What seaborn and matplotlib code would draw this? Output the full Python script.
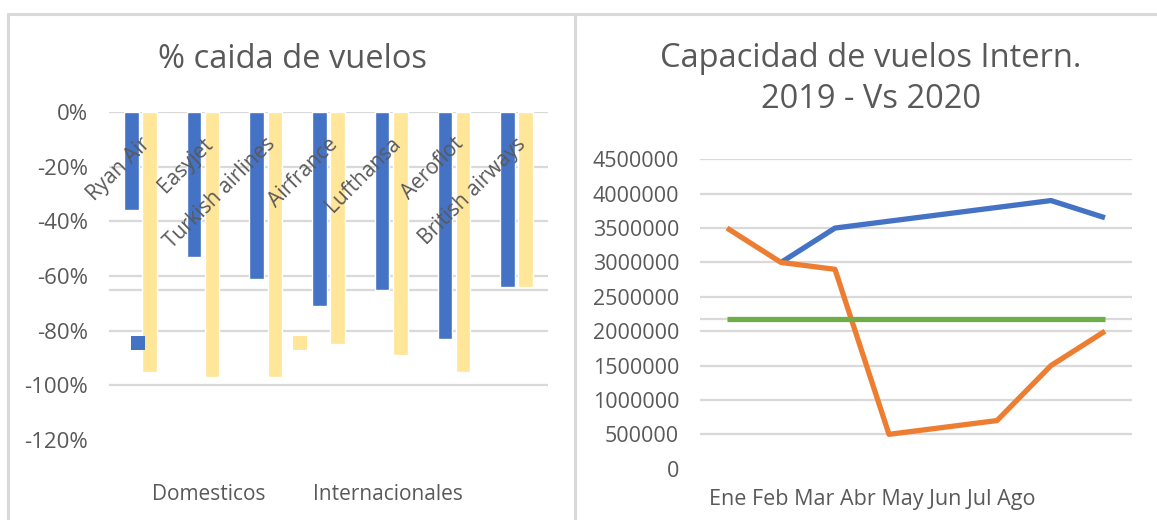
import pandas as pd
import seaborn as sns
import matplotlib.pyplot as plt
from matplotlib.patches import Rectangle
from matplotlib.lines import Line2D

# --- data ---
aerolineas = ["Ryan Air", "Easyjet", "Turkish airlines", "Airfrance",
              "Lufthansa", "Aeroflot", "British airways"]
domesticos = [-0.36, -0.53, -0.61, -0.71, -0.65, -0.83, -0.64]
internacionales = [-0.95, -0.97, -0.97, -0.85, -0.89, -0.95, -0.64]
tipos = ["Domesticos", "Internacionales"]

meses = ["Ene", "Feb", "Mar", "Abr", "May", "Jun", "Jul", "Ago"]
cap_2019 = [None, 3000000, 3500000, 3600000, 3700000, 3800000, 3900000, 3650000]
cap_2020 = [3500000, 3000000, 2900000, 500000, 600000, 700000, 1500000, 2000000]
cap_media = [2180000] * 8

AZUL = "#4472C4"
AMARILLO = "#FFE699"
NARANJA = "#ED7D31"
VERDE = "#70AD47"
GRIS_TXT = "#595959"
GRIS_LINEA = "#D9D9D9"

sns.set_style("white")
plt.rcParams["font.family"] = ["Open Sans", "DejaVu Sans"]

W, H = 1157, 520
fig = plt.figure(figsize=(W / 100, H / 100), dpi=100)


def px_box(x0, y0, x1, y1):
    """Convert pixel box (top-left origin) to figure fraction rect."""
    return [x0 / W, 1 - y1 / H, (x1 - x0) / W, (y1 - y0) / H]


# --- left chart: % caida de vuelos ---
ax1 = fig.add_axes(px_box(109, 112, 548, 440))
df_bar = pd.DataFrame({
    "aerolinea": aerolineas * 2,
    "caida": domesticos + internacionales,
    "tipo": [tipos[0]] * len(aerolineas) + [tipos[1]] * len(aerolineas),
})
sns.barplot(data=df_bar, x="aerolinea", y="caida", hue="tipo",
            palette=[AZUL, AMARILLO], saturation=1, width=0.58, gap=0.2,
            legend=False, ax=ax1, zorder=2)
ax1.set_xlim(-0.5, len(aerolineas) - 0.5)
ax1.set_ylim(-1.2, 0)
yt = [0, -0.2, -0.4, -0.6, -0.8, -1.0, -1.2]
ax1.set_yticks(yt)
ax1.set_yticklabels([f"{int(round(v * 100))}%" for v in yt], color=GRIS_TXT, fontsize=16)
ax1.set_xticks([])
ax1.set_xlabel("")
ax1.set_ylabel("")
for v in yt[:-1] + [-0.65]:
    ax1.axhline(v, color=GRIS_LINEA, lw=1.6, zorder=1)
for i, nombre in enumerate(aerolineas):
    ax1.text(i + 0.106, -0.106, nombre, rotation=45, rotation_mode="anchor",
             ha="right", va="center", color=GRIS_TXT, fontsize=15, zorder=3)
ax1.tick_params(axis="y", length=0, pad=15)
sns.despine(ax=ax1, left=True, bottom=True)

# legend keys (sitting inside the plot, as in the source)
for x0, col in [(0.0501, AZUL), (0.4192, AMARILLO)]:
    ax1.add_patch(Rectangle((x0, 0.274), 0.0319, 0.043, transform=ax1.transAxes,
                            facecolor=col, edgecolor="none", zorder=4))
fig.text(152 / W, 1 - 495 / H, tipos[0], color=GRIS_TXT, fontsize=15, va="center")
fig.text(313 / W, 1 - 495 / H, tipos[1], color=GRIS_TXT, fontsize=15, va="center")
fig.text(293 / W, 1 - 68 / H, "% caida de vuelos", color=GRIS_TXT, fontsize=23.5,
         ha="center", va="baseline")

# --- right chart: capacidad de vuelos ---
ax2 = fig.add_axes(px_box(700, 159.3, 1132, 468.7))
x_idx = list(range(len(meses)))
df_lin = pd.DataFrame({
    "mes": x_idx * 3,
    "capacidad": cap_2019 + cap_2020 + cap_media,
    "serie": ["2019"] * 8 + ["2020"] * 8 + ["media"] * 8,
}).dropna()
sns.lineplot(data=df_lin, x="mes", y="capacidad", hue="serie",
             palette=[AZUL, NARANJA, VERDE], linewidth=3.8, legend=False,
             ax=ax2, zorder=3, solid_capstyle="butt")
ax2.set_xlim(-0.5, len(meses) - 0.5)
ax2.set_ylim(0, 4500000)
yt2 = list(range(0, 4500001, 500000))
ax2.set_yticks(yt2)
ax2.set_yticklabels([str(v) for v in yt2], color=GRIS_TXT, fontsize=15.5)
ax2.set_xticks([])
ax2.set_xlabel("")
ax2.set_ylabel("")
for v in yt2[1:] + [2177000]:
    ax2.axhline(v, color=GRIS_LINEA, lw=1.6, zorder=1)
ax2.tick_params(axis="y", length=0, pad=15)
sns.despine(ax=ax2, left=True, bottom=True)

fig.text(872 / W, 1 - 500 / H, " ".join(meses), color=GRIS_TXT, fontsize=15.5,
         ha="center", va="center")
fig.text(871 / W, 1 - 67 / H, "Capacidad de vuelos Intern.", color=GRIS_TXT,
         fontsize=23.5, ha="center", va="baseline")
fig.text(871 / W, 1 - 108 / H, "2019 - Vs 2020", color=GRIS_TXT,
         fontsize=23.5, ha="center", va="baseline")

# --- chart frames ---
for xs, ys in [([8, W], [14, 14]), ([8, 8], [14, H]), ([575, 575], [14, H])]:
    fig.add_artist(Line2D([x / W for x in xs], [1 - y / H for y in ys],
                          color=GRIS_LINEA, lw=2.2))

fig.savefig("out.png", dpi=100)
